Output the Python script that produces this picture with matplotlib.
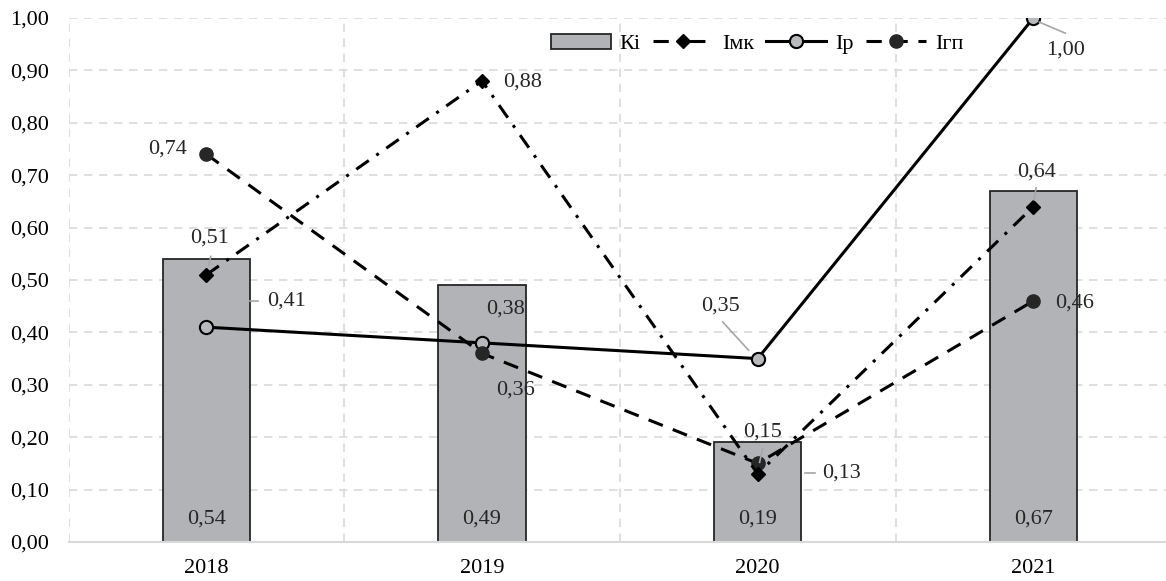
import matplotlib
matplotlib.use("Agg")
import matplotlib.pyplot as plt
from matplotlib.lines import Line2D
from matplotlib.patches import Patch

plt.rcParams['font.family'] = ['Liberation Serif', 'DejaVu Serif']
plt.rcParams['font.size'] = 16

years = ["2018", "2019", "2020", "2021"]
ki = [0.54, 0.49, 0.19, 0.67]
imk = [0.51, 0.88, 0.13, 0.64]
ip = [0.41, 0.38, 0.35, 1.00]
igp = [0.74, 0.36, 0.15, 0.46]


def fmt(v):
    return f"{v:.2f}".replace(".", ",")


fig = plt.figure(figsize=(11.66, 5.81), dpi=100)
ax = fig.add_axes([68.5 / 1166, 39 / 581, (1166 - 68.5) / 1166, 524 / 581])

x = list(range(len(years)))
ax.bar(x, ki, width=0.316, color="#b2b3b7", edgecolor="#262626", linewidth=1.3, zorder=2)

ax.plot(x, imk, color="black", lw=2.2, linestyle=(0, (5, 3, 1, 3)), marker="D",
        markersize=7.5, markerfacecolor="black", markeredgecolor="black", zorder=4)
ax.plot(x, ip, color="black", lw=2.2, linestyle="-", marker="o", markersize=9.5,
        markerfacecolor="#b8b9bd", markeredgecolor="black", markeredgewidth=1.5, zorder=3)
ax.plot(x, igp, color="black", lw=2.2, linestyle=(0, (5, 3.5)), marker="o", markersize=9.5,
        markerfacecolor="#262626", markeredgecolor="#262626", zorder=3.5)

ax.set_xlim(-0.5, -0.5 + (1166 - 68.5) / 275.67)
ax.set_ylim(0, 1.0)
ax.set_yticks([i / 10 for i in range(11)])
ax.set_yticklabels([fmt(i / 10) for i in range(11)])
ax.set_xticks(x)
ax.set_xticklabels(years)
ax.tick_params(axis="y", length=0, pad=14)
ax.tick_params(axis="x", length=0, pad=12)

grid_kw = dict(color="#d9d9d9", lw=1.2, linestyle=(0, (5, 4)), zorder=0)
for v in [i / 10 for i in range(1, 11)]:
    ax.axhline(v, **grid_kw)
for b in [-0.5, 0.5, 1.5, 2.5, 3.5]:
    ax.axvline(b, **grid_kw)
for s in ["top", "right", "left"]:
    ax.spines[s].set_visible(False)
ax.spines["bottom"].set_color("#d9d9d9")
ax.spines["bottom"].set_linewidth(1.5)

# bar values inside the bottom of each bar
for xi, v in zip(x, ki):
    ax.text(xi, 0.043, fmt(v), ha="center", va="center", color="#262626", zorder=5)

lead = dict(color="#a6a6a6", lw=1.2, zorder=5)


def label(tx, ty, text, ha="center", seg=None):
    ax.text(tx, ty, text, ha=ha, va="center", color="#262626", zorder=6)
    if seg is not None:
        (x0, y0), (x1, y1) = seg
        ax.plot([x0, x1], [y0, y1], **lead)


label(0.013, 0.581, fmt(imk[0]), seg=((0.016, 0.545), (0.009, 0.528)))
label(0.22, 0.459, fmt(ip[0]), ha="left", seg=((0.158, 0.460), (0.188, 0.460)))
label(-0.14, 0.75, fmt(igp[0]))
label(1.075, 0.877, fmt(imk[1]), ha="left")
label(1.087, 0.444, fmt(ip[1]))
label(1.123, 0.290, fmt(igp[1]))
label(1.866, 0.451, fmt(ip[2]), seg=((1.873, 0.420), (1.967, 0.366)))
label(2.018, 0.210, fmt(igp[2]), seg=((2.018, 0.178), (2.007, 0.152)))
label(2.233, 0.131, fmt(imk[2]), ha="left", seg=((2.17, 0.131), (2.207, 0.131)))
label(3.01, 0.706, fmt(imk[3]), seg=((3.01, 0.676), (3.003, 0.653)))
label(3.08, 0.456, fmt(igp[3]), ha="left")
label(3.118, 0.939, fmt(ip[3]), seg=((3.022, 0.992), (3.116, 0.971)))

handles = [
    Patch(facecolor="#b2b3b7", edgecolor="#262626", linewidth=1.3),
    Line2D([], [], color="black", lw=2.2, linestyle=(0, (5, 3, 1, 3)), marker="D",
           markersize=7.5, markerfacecolor="black"),
    Line2D([], [], color="black", lw=2.2, marker="o", markersize=9.5,
           markerfacecolor="#b8b9bd", markeredgecolor="black", markeredgewidth=1.5),
    Line2D([], [], color="black", lw=2.2, linestyle=(0, (5, 3.5)), marker="o", markersize=9.5,
           markerfacecolor="#262626", markeredgecolor="#262626"),
]
fig.legend(handles, ["Кі", "Імк", "Ір", "Ігп"], loc="center", ncol=4,
           bbox_to_anchor=(757 / 1166, 1 - 44 / 581), frameon=False,
           handlelength=2.7, handleheight=0.7, handletextpad=0.4, columnspacing=0.55,
           borderpad=0.2)

fig.savefig("out.png", dpi=100)
